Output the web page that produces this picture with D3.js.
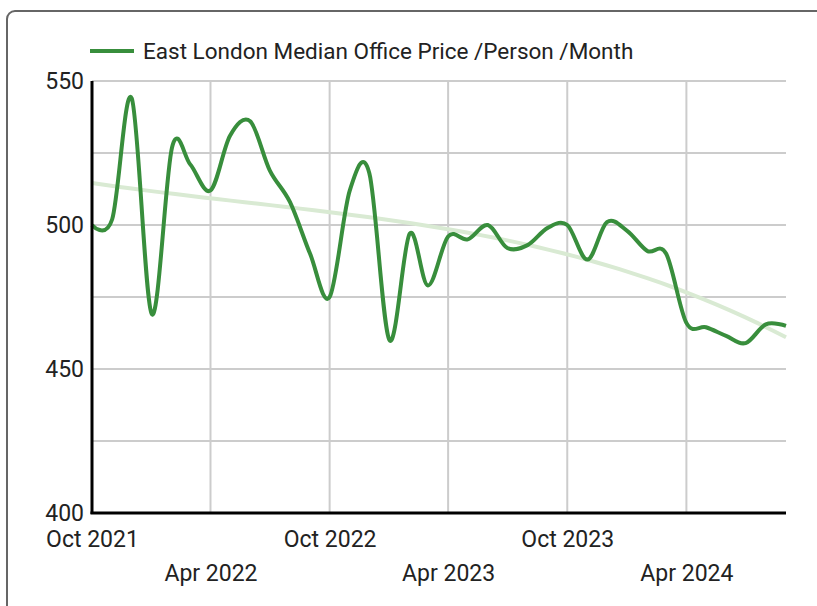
<!DOCTYPE html>
<html>
<head>
<meta charset="utf-8">
<script src="https://cdn.jsdelivr.net/npm/d3@7"></script>
<style>
  body { margin: 0; background: #fff; }
  text { font-family: Roboto, "Noto Sans", sans-serif; fill: #222; }
</style>
</head>
<body>
<div id="chart"></div>
<script>
// monthly medians, Oct 2021 .. Sep 2024
var months = [
  "2021-10", "2021-11", "2021-12", "2022-01", "2022-02", "2022-03",
  "2022-04", "2022-05", "2022-06", "2022-07", "2022-08", "2022-09",
  "2022-10", "2022-11", "2022-12", "2023-01", "2023-02", "2023-03",
  "2023-04", "2023-05", "2023-06", "2023-07", "2023-08", "2023-09",
  "2023-10", "2023-11", "2023-12", "2024-01", "2024-02", "2024-03",
  "2024-04", "2024-05", "2024-06", "2024-07", "2024-08", "2024-09"
];
var prices = [
  500, 502, 544, 469, 527, 521,
  512, 531, 536, 519, 508, 490,
  475, 512, 518, 460, 497, 479,
  496, 495, 500, 492, 493, 499,
  500, 488, 501, 498, 491, 490,
  466, 464.5, 461.5, 459, 465.5, 465
];
var xTickLabels = ["Oct 2021", "Apr 2022", "Oct 2022", "Apr 2023", "Oct 2023", "Apr 2024"];
var yTickValues = [400, 450, 500, 550];
var yGridValues = [425, 450, 475, 500, 525, 550];
var seriesName = "East London Median Office Price /Person /Month";

var parseMonth = d3.timeParse("%Y-%m");
var parseLabel = d3.timeParse("%b %Y");
var data = months.map(function (m, i) {
  return { date: parseMonth(m), value: prices[i] };
});
var xTicks = xTickLabels.map(function (t) { return parseLabel(t); });

var width = 817, height = 606;
var margin = { top: 81, right: 31, bottom: 93, left: 92 };

var x = d3.scaleTime()
  .domain([data[0].date, data[data.length - 1].date])
  .range([margin.left, width - margin.right]);
var y = d3.scaleLinear()
  .domain([400, 550])
  .range([height - margin.bottom, margin.top]);

var svg = d3.select("#chart")
  .append("svg")
  .attr("width", width)
  .attr("height", height);

// outer frame (runs off the right and bottom edges)
svg.append("rect")
  .attr("x", 7).attr("y", 11)
  .attr("width", 830).attr("height", 610)
  .attr("rx", 8)
  .attr("fill", "none")
  .attr("stroke", "#666")
  .attr("stroke-width", 2);

// grid
svg.append("g")
  .selectAll("line")
  .data(yGridValues)
  .enter()
  .append("line")
  .attr("x1", x.range()[0]).attr("x2", x.range()[1])
  .attr("y1", function (d) { return y(d); })
  .attr("y2", function (d) { return y(d); })
  .attr("stroke", "#ccc")
  .attr("stroke-width", 2);

svg.append("g")
  .selectAll("line")
  .data(xTicks.slice(1))
  .enter()
  .append("line")
  .attr("x1", function (d) { return x(d); })
  .attr("x2", function (d) { return x(d); })
  .attr("y1", y.range()[1]).attr("y2", y.range()[0])
  .attr("stroke", "#ccc")
  .attr("stroke-width", 2);

// polynomial trendline (least squares, degree 3)
var t0 = data[0].date.getTime(), span = data[data.length - 1].date.getTime() - t0;
var ts = data.map(function (d) { return (d.date.getTime() - t0) / span; });
function fitPoly(xs, ys, deg) {
  var n = deg + 1, A = [];
  for (var i = 0; i < n; i++) {
    A.push([]);
    for (var j = 0; j <= n; j++) A[i].push(0);
  }
  xs.forEach(function (xv, k) {
    for (var i = 0; i < n; i++) {
      for (var j = 0; j < n; j++) A[i][j] += Math.pow(xv, i + j);
      A[i][n] += ys[k] * Math.pow(xv, i);
    }
  });
  for (var c = 0; c < n; c++) {
    for (var r = c + 1; r < n; r++) {
      var f = A[r][c] / A[c][c];
      for (var q = c; q <= n; q++) A[r][q] -= f * A[c][q];
    }
  }
  var b = new Array(n).fill(0);
  for (var i2 = n - 1; i2 >= 0; i2--) {
    var sum = A[i2][n];
    for (var j2 = i2 + 1; j2 < n; j2++) sum -= A[i2][j2] * b[j2];
    b[i2] = sum / A[i2][i2];
  }
  return b;
}
var coef = fitPoly(ts, prices, 3);
var trend = d3.range(0, 1.0001, 0.02).map(function (u) {
  var v = 0;
  coef.forEach(function (c, k) { v += c * Math.pow(u, k); });
  return { date: new Date(t0 + u * span), value: v };
});

svg.append("path")
  .datum(trend)
  .attr("fill", "none")
  .attr("stroke", "#d9ead3")
  .attr("stroke-width", 4)
  .attr("d", d3.line()
    .x(function (d) { return x(d.date); })
    .y(function (d) { return y(d.value); }));

// series
svg.append("path")
  .datum(data)
  .attr("fill", "none")
  .attr("stroke", "#388e3c")
  .attr("stroke-width", 4)
  .attr("stroke-linejoin", "round")
  .attr("d", d3.line()
    .curve(d3.curveCardinal.tension(0))
    .x(function (d) { return x(d.date); })
    .y(function (d) { return y(d.value); }));

// axes
var yAxis = d3.axisLeft(y).tickValues(yTickValues).tickSize(0).tickPadding(8);
var gy = svg.append("g")
  .attr("transform", "translate(" + margin.left + ",0)")
  .call(yAxis);
gy.select(".domain").remove();
gy.selectAll("text").style("font-size", "23px").attr("fill", "#222");

var xAxis = d3.axisBottom(x)
  .tickValues(xTicks)
  .tickSize(0)
  .tickFormat(function (d, i) { return xTickLabels[i]; });
var gx = svg.append("g")
  .attr("transform", "translate(0," + y.range()[0] + ")")
  .call(xAxis);
gx.select(".domain").remove();
gx.selectAll("text")
  .style("font-size", "23px")
  .attr("fill", "#222")
  .attr("y", function (d, i) { return i % 2 === 0 ? 34 : 68; })
  .attr("dy", 0);

// axis lines
svg.append("line")
  .attr("x1", margin.left).attr("x2", margin.left)
  .attr("y1", y.range()[1]).attr("y2", y.range()[0] + 1)
  .attr("stroke", "#000").attr("stroke-width", 3);
svg.append("line")
  .attr("x1", margin.left - 1.5).attr("x2", x.range()[1])
  .attr("y1", y.range()[0]).attr("y2", y.range()[0])
  .attr("stroke", "#000").attr("stroke-width", 3);

// legend
var legend = svg.append("g").attr("transform", "translate(90,51)");
legend.append("line")
  .attr("x1", 0).attr("x2", 44)
  .attr("stroke", "#388e3c").attr("stroke-width", 4);
legend.append("text")
  .attr("x", 53).attr("y", 7.5)
  .style("font-size", "22.5px")
  .text(seriesName);
</script>
</body>
</html>
